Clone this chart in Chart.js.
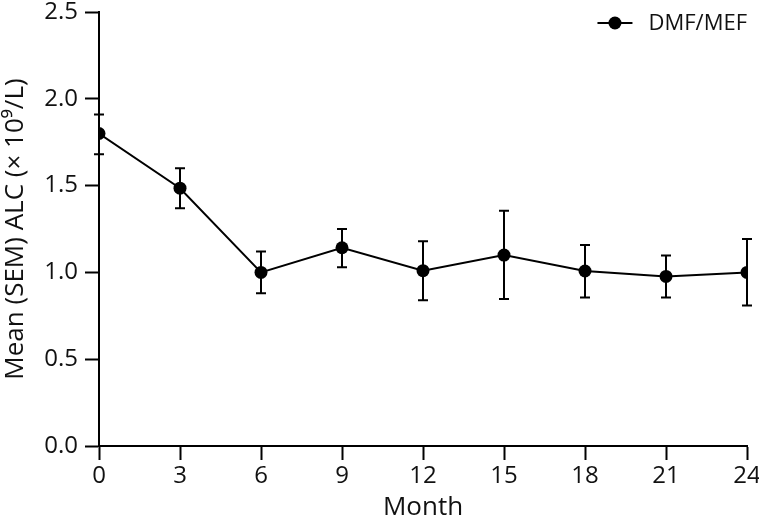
<!DOCTYPE html>
<html lang="en">
<head>
    <meta charset="UTF-8">
    <title>Mean ALC over time</title>
    <script src="https://cdn.jsdelivr.net/npm/chart.js"></script>
    <style>
        html, body { margin: 0; padding: 0; background: #fff; }
        #wrap { width: 759px; height: 521px; }
    </style>
</head>
<body>
    <div id="wrap"><canvas id="graph" width="759" height="521"></canvas></div>

    <script>
        // data
        const months = [0, 3, 6, 9, 12, 15, 18, 21, 24];
        const meanAlc = [1.80, 1.485, 1.00, 1.142, 1.01, 1.10, 1.008, 0.977, 1.00];
        const semUpper = [1.91, 1.60, 1.12, 1.25, 1.18, 1.355, 1.158, 1.098, 1.192];
        const semLower = [1.68, 1.37, 0.88, 1.03, 0.84, 0.847, 0.856, 0.856, 0.81];
        const xTicks = [0, 3, 6, 9, 12, 15, 18, 21, 24];
        const yTicks = [0, 0.5, 1.0, 1.5, 2.0, 2.5];
        const seriesName = 'DMF/MEF';

        const FONT = "'Open Sans', 'Noto Sans', sans-serif";

        // error bars with caps, drawn under the points
        const errorBars = {
            id: 'errorBars',
            beforeDatasetsDraw(chart) {
                const ctx = chart.ctx;
                const xs = chart.scales.x, ys = chart.scales.y;
                ctx.save();
                ctx.strokeStyle = '#000';
                ctx.lineWidth = 2;
                months.forEach((m, i) => {
                    const px = xs.getPixelForValue(m);
                    const top = ys.getPixelForValue(semUpper[i]);
                    const bot = ys.getPixelForValue(semLower[i]);
                    ctx.beginPath();
                    ctx.moveTo(px, top); ctx.lineTo(px, bot);
                    ctx.moveTo(px - 5, top); ctx.lineTo(px + 5, top);
                    ctx.moveTo(px - 5, bot); ctx.lineTo(px + 5, bot);
                    ctx.stroke();
                });
                ctx.restore();
            }
        };

        // legend in the top right corner, inside the plot
        const cornerLegend = {
            id: 'cornerLegend',
            afterDraw(chart) {
                const ctx = chart.ctx;
                const right = chart.chartArea.right;
                const y = chart.chartArea.top + 11;
                ctx.save();
                ctx.font = '22px ' + FONT;
                const w = ctx.measureText(seriesName).width;
                const tx = right - w;
                const lx1 = tx - 51, lx2 = tx - 16;
                ctx.strokeStyle = '#000';
                ctx.lineWidth = 2;
                ctx.beginPath(); ctx.moveTo(lx1, y); ctx.lineTo(lx2, y); ctx.stroke();
                ctx.fillStyle = '#000';
                ctx.beginPath(); ctx.arc((lx1 + lx2) / 2, y, 6.5, 0, Math.PI * 2); ctx.fill();
                ctx.fillStyle = '#111';
                ctx.textBaseline = 'middle';
                ctx.fillText(seriesName, tx, y + 1);
                ctx.restore();
            }
        };

        const ctx = document.getElementById('graph').getContext('2d');
        new Chart(ctx, {
            type: 'line',
            data: {
                datasets: [{
                    label: seriesName,
                    data: months.map((m, i) => ({ x: m, y: meanAlc[i] })),
                    borderColor: '#000',
                    backgroundColor: '#000',
                    borderWidth: 2,
                    pointRadius: 6.5,
                    pointHoverRadius: 6.5,
                    pointBackgroundColor: '#000',
                    pointBorderWidth: 0,
                    pointStyle: 'circle',
                    tension: 0,
                    fill: false
                }]
            },
            options: {
                responsive: false,
                animation: false,
                events: [],
                layout: { padding: 0 },
                plugins: {
                    tooltip: { enabled: false },
                    legend: { display: false }
                },
                scales: {
                    x: {
                        type: 'linear',
                        min: 0,
                        max: 24,
                        afterBuildTicks: s => { s.ticks = xTicks.map(v => ({ value: v })); },
                        afterFit: s => { s.height = 75; s.paddingRight = 12; },
                        grid: {
                            drawOnChartArea: false,
                            tickLength: 14,
                            tickWidth: 2,
                            tickColor: '#000'
                        },
                        border: { color: '#000', width: 2 },
                        ticks: {
                            color: '#111',
                            padding: 2,
                            maxRotation: 0,
                            font: { family: FONT, size: 24 }
                        },
                        title: {
                            display: true,
                            text: 'Month',
                            color: '#111',
                            padding: { top: 0, bottom: -2 },
                            font: { family: FONT, size: 26 }
                        }
                    },
                    y: {
                        type: 'linear',
                        min: 0,
                        max: 2.5,
                        afterBuildTicks: s => { s.ticks = yTicks.map(v => ({ value: v })); },
                        afterFit: s => { s.width = 99; s.paddingTop = 12; },
                        grid: {
                            drawOnChartArea: false,
                            tickLength: 14,
                            tickWidth: 2,
                            tickColor: '#000'
                        },
                        border: { color: '#000', width: 2 },
                        ticks: {
                            color: '#111',
                            padding: 7,
                            font: { family: FONT, size: 24 },
                            callback: v => Number(v).toFixed(1)
                        },
                        title: {
                            display: true,
                            text: 'Mean (SEM) ALC (\u00d7 10\u2079/L)',
                            color: '#111',
                            padding: { top: 0, bottom: 0 },
                            font: { family: FONT, size: 26 }
                        }
                    }
                }
            },
            plugins: [errorBars, cornerLegend]
        });
    </script>
</body>
</html>
